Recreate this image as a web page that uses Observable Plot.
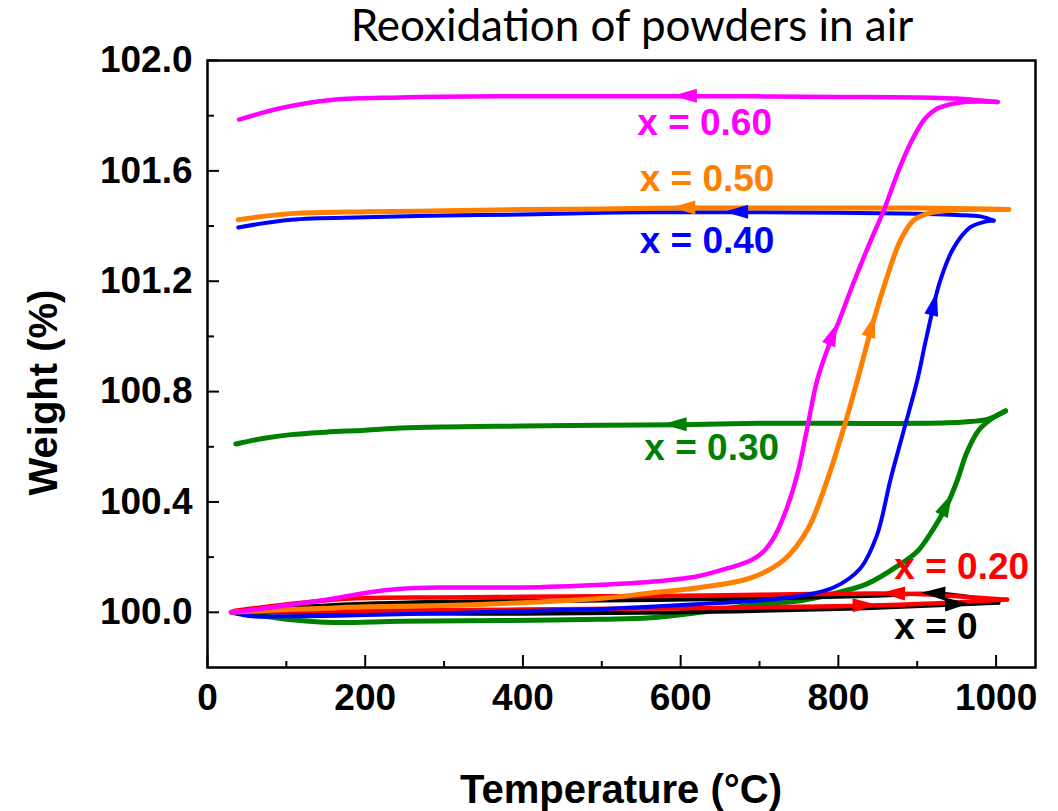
<!DOCTYPE html>
<html>
<head>
<meta charset="utf-8">
<script src="https://cdn.jsdelivr.net/npm/d3@7"></script>
<script src="https://cdn.jsdelivr.net/npm/@observablehq/plot@0.6"></script>
<style>
  html, body { margin: 0; padding: 0; background: #fff; }
  #title {
    height: 40px; line-height: 40px; padding-top: 4px;
    padding-left: 206px; width: 852px;
    text-align: center; white-space: nowrap;
    font-family: Lato, "Open Sans", sans-serif; font-size: 44px; color: #000;
  }
  #chart svg { display: block; overflow: visible; }
</style>
</head>
<body>
<div id="title">Reoxidation of powders in air</div>
<div id="chart"></div>
<script>
// TGA reoxidation runs: [temperature °C, weight %], heating then cooling branch.
const heat060 = [[30,100.00],[60,100.01],[100,100.025],[160,100.05],[200,100.07],[245,100.085],[300,100.09],[400,100.09],[500,100.10],[560,100.11],[620,100.13],[660,100.16],[690,100.19],[705,100.22],[720,100.28],[735,100.38],[748,100.50],[760,100.66],[773,100.84],[787,100.96],[800,101.05],[820,101.20],[840,101.34],[858,101.46],[879,101.62],[895,101.72],[910,101.79],[925,101.825],[940,101.84],[960,101.85],[1002,101.85]];
const cool060 = [[1002,101.85],[980,101.855],[950,101.862],[900,101.866],[800,101.868],[700,101.87],[600,101.87],[500,101.87],[372,101.87],[245,101.866],[160,101.858],[97,101.83],[40,101.786]];

const heat050 = [[30,100.00],[60,100.005],[100,100.01],[150,100.015],[200,100.02],[300,100.025],[400,100.035],[498,100.05],[562,100.07],[625,100.09],[689,100.125],[731,100.19],[761,100.30],[786,100.48],[806,100.66],[824,100.84],[841,101.02],[860,101.20],[879,101.35],[895,101.42],[913,101.445],[935,101.455],[960,101.46],[1016,101.46]];
const cool050 = [[1016,101.46],[900,101.465],[800,101.465],[700,101.465],[600,101.465],[500,101.462],[400,101.46],[300,101.455],[200,101.452],[106,101.445],[39,101.423]];

const heat040 = [[30,100.00],[45,99.99],[60,99.985],[100,99.985],[200,99.99],[300,99.997],[400,100.005],[500,100.012],[560,100.02],[625,100.03],[710,100.045],[752,100.06],[794,100.09],[828,100.16],[849,100.28],[866,100.48],[883,100.66],[900,100.84],[912,101.0],[929,101.20],[946,101.32],[967,101.395],[985,101.415],[997,101.42]];
const cool040 = [[997,101.42],[980,101.435],[950,101.44],[900,101.445],[800,101.448],[700,101.45],[600,101.45],[500,101.448],[400,101.442],[300,101.438],[200,101.432],[106,101.423],[39,101.395]];

const heat030 = [[30,100.00],[60,99.99],[100,99.975],[160,99.963],[245,99.968],[372,99.97],[498,99.975],[562,99.98],[625,100.0],[701,100.03],[752,100.042],[794,100.068],[837,100.104],[879,100.175],[900,100.22],[920,100.30],[938,100.39],[951,100.48],[963,100.58],[978,100.66],[996,100.705],[1012,100.73]];
const cool030 = [[1012,100.73],[990,100.70],[960,100.69],[900,100.685],[800,100.685],[700,100.685],[600,100.68],[500,100.678],[400,100.675],[300,100.672],[245,100.668],[200,100.66],[150,100.653],[106,100.644],[70,100.63],[36,100.61]];

const heat020 = [[30,100.00],[100,100.003],[200,100.006],[400,100.01],[600,100.015],[800,100.022],[900,100.03],[1014,100.046]];
const cool020 = [[1014,100.046],[950,100.058],[900,100.066],[850,100.068],[700,100.064],[600,100.06],[500,100.058],[400,100.056],[300,100.054],[182,100.05],[120,100.035],[60,100.015],[33,100.005]];

const heat000 = [[30,100.00],[200,99.997],[400,99.995],[600,100.0],[800,100.012],[951,100.028],[1003,100.035]];
const cool000 = [[1003,100.035],[960,100.058],[920,100.068],[850,100.06],[700,100.05],[500,100.043],[300,100.038],[150,100.025],[60,100.008],[30,100.0]];

// Series names, colours and label positions (label anchored at its left edge)
const seriesNames  = ["x = 0.30", "x = 0", "x = 0.20", "x = 0.40", "x = 0.50", "x = 0.60"];
const seriesColors = ["#008000", "#000000", "#ff0000", "#0000ff", "#ff8000", "#ff00ff"];
const seriesWidths = [5, 4, 4.5, 4, 5, 4.5];
const seriesHeat   = [heat030, heat000, heat020, heat040, heat050, heat060];
const seriesCool   = [cool030, cool000, cool020, cool040, cool050, cool060];
const labelTemp    = [554, 871, 871, 548, 548, 545];
const labelWeight  = [100.594, 99.945, 100.162, 101.344, 101.569, 101.772];

// Direction arrowheads: series, branch, temperature where they sit
const arrowSeries = ["x = 0.60", "x = 0.60", "x = 0.50", "x = 0.50", "x = 0.40", "x = 0.40", "x = 0.30", "x = 0.30", "x = 0.20", "x = 0.20", "x = 0", "x = 0"];
const arrowBranch = ["cool", "heat", "cool", "heat", "cool", "heat", "cool", "heat", "heat", "cool", "cool", "heat"];
const arrowTemp   = [606, 794, 604, 843, 671, 922, 593, 938, 834, 870, 921, 951];

// Axis ticks and titles
const xMajor = [0, 200, 400, 600, 800, 1000];
const xMinor = [100, 300, 500, 700, 900];
const yMajor = [100.0, 100.4, 100.8, 101.2, 101.6, 102.0];
const yMinor = [100.2, 100.6, 101.0, 101.4, 101.8];
const xTitle = "Temperature (°C)";
const yTitle = "Weight (%)";

const toRows = (pts) => pts.map(([T, W]) => ({T, W}));

// Linear interpolation along a branch (ascending or descending temperature)
function weightAt(pts, t) {
  for (let i = 0; i < pts.length - 1; i++) {
    const [t0, w0] = pts[i], [t1, w1] = pts[i + 1];
    if ((t - t0) * (t - t1) <= 0 && t0 !== t1) return w0 + (w1 - w0) * (t - t0) / (t1 - t0);
  }
  return pts[pts.length - 1][1];
}

// Filled arrowheads oriented along the curve, placed with the plot's scales
function arrowheads(index, scales) {
  const g = d3.create("svg:g");
  const L = 24, H = 7;
  arrowSeries.forEach((name, k) => {
    const s = seriesNames.indexOf(name);
    const pts = arrowBranch[k] === "heat" ? seriesHeat[s] : seriesCool[s];
    const t = arrowTemp[k];
    const cx = scales.x(t), cy = scales.y(weightAt(pts, t));
    const xa = scales.x(t - 4), ya = scales.y(weightAt(pts, t - 4));
    const xb = scales.x(t + 4), yb = scales.y(weightAt(pts, t + 4));
    let a = Math.atan2(yb - ya, xb - xa);
    if (arrowBranch[k] === "cool") a += Math.PI;
    const c = Math.cos(a), sn = Math.sin(a);
    const p = (u, v) => [cx + u * c - v * sn, cy + u * sn + v * c];
    const tip = p(L / 2, 0), b1 = p(-L / 2, -H), b2 = p(-L / 2, H);
    g.append("path")
      .attr("d", `M${tip}L${b1}L${b2}Z`)
      .attr("fill", seriesColors[s]);
  });
  return g.node();
}

// Axis titles, positioned relative to the plot frame
function axisTitles(index, scales, values, dims) {
  const {width, height, marginLeft, marginRight, marginTop, marginBottom} = dims;
  const g = d3.create("svg:g")
    .attr("font-size", 40).attr("font-weight", "bold").attr("fill", "#000")
    .attr("font-family", "'Liberation Sans', Arial, sans-serif");
  const frameBottom = height - marginBottom;
  const frameMidX = (marginLeft + width - marginRight) / 2;
  const frameMidY = (marginTop + frameBottom) / 2;
  g.append("text")
    .attr("text-anchor", "middle")
    .attr("transform", `translate(${frameMidX},${frameBottom + 136})`)
    .text(xTitle);
  g.append("text")
    .attr("text-anchor", "middle")
    .attr("transform", `translate(${marginLeft - 150},${frameMidY + 29}) rotate(-90)`)
    .text(yTitle);
  return g.node();
}

const lineMarks = [];
seriesNames.forEach((name, i) => {
  for (const pts of [seriesHeat[i], seriesCool[i]]) {
    lineMarks.push(Plot.line(toRows(pts), {
      x: "T", y: "W", stroke: seriesColors[i], strokeWidth: seriesWidths[i],
      curve: "catmull-rom", strokeLinecap: "round", strokeLinejoin: "round"
    }));
  }
});

const labels = seriesNames.map((name, i) => ({name, T: labelTemp[i], W: labelWeight[i], color: seriesColors[i]}));

const chart = Plot.plot({
  width: 1058,
  height: 767,
  marginTop: 16,
  marginBottom: 144,
  marginLeft: 207,
  marginRight: 23,
  x: {domain: [0, 1050]},
  y: {domain: [99.8, 102.0]},
  style: {fontFamily: "'Liberation Sans', Arial, sans-serif", fontWeight: "bold", background: "#fff", color: "#000", overflow: "visible"},
  marks: [
    Plot.axisX(xMajor, {tickSize: -12, tickPadding: 28, fontSize: 37, strokeWidth: 2, tickFormat: (d) => String(d), label: null}),
    Plot.axisX(xMinor, {tickSize: -6, strokeWidth: 2, tickFormat: () => "", label: null}),
    Plot.axisY(yMajor, {tickSize: -12, tickPadding: 27, fontSize: 37, strokeWidth: 2, tickFormat: (d) => d.toFixed(1), label: null}),
    Plot.axisY(yMinor, {tickSize: -7, strokeWidth: 2, tickFormat: () => "", label: null}),
    ...lineMarks,
    Plot.frame({stroke: "#000", strokeWidth: 2.5}),
    arrowheads,
    Plot.text(labels, {x: "T", y: "W", text: "name", fill: "color", textAnchor: "start", fontSize: 37, fontWeight: "bold"}),
    axisTitles
  ]
});
document.getElementById("chart").appendChild(chart);
</script>
</body>
</html>
